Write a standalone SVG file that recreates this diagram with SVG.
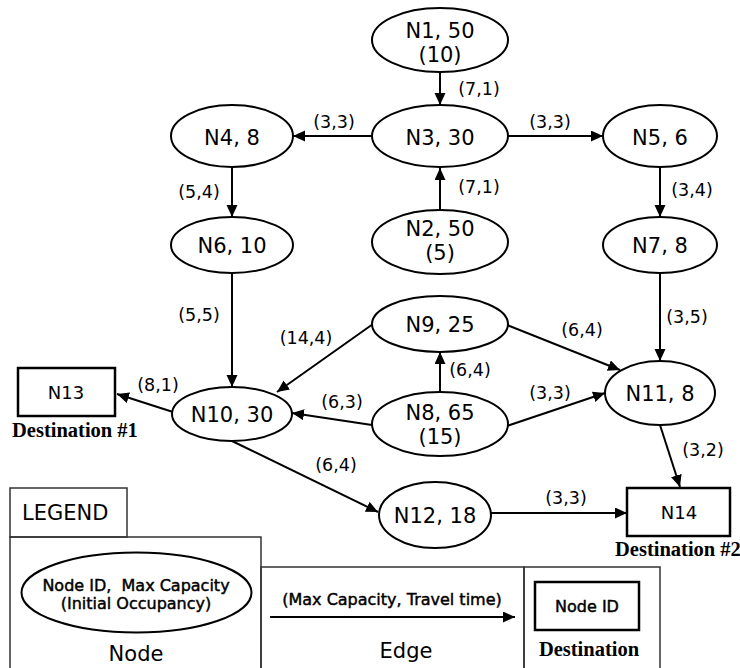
<svg xmlns="http://www.w3.org/2000/svg" width="740" height="668" viewBox="0 0 740 668">
<style>
.bg{fill:#fff}
.node ellipse{fill:#fff;stroke:#000;stroke-width:2}
.dest rect{fill:#fff;stroke:#000;stroke-width:2.5}
.t{font-family:"DejaVu Sans",Verdana,sans-serif;font-size:21px;text-anchor:middle;fill:#000}
.td{font-family:"DejaVu Sans",Verdana,sans-serif;font-size:18px;text-anchor:middle;fill:#000}
.e{font-family:"DejaVu Sans",Verdana,sans-serif;font-size:17.5px;text-anchor:middle;fill:#000}
.ser{font-family:"Liberation Serif","Times New Roman",serif;font-weight:bold;font-size:20.5px;fill:#000}
.conn line{stroke:#000;stroke-width:2;marker-end:url(#arr)}
.box{fill:none;stroke:#333;stroke-width:1.5}
.leg{font-family:"DejaVu Sans",Verdana,sans-serif;font-size:16px;text-anchor:middle;fill:#000;stroke:#000;stroke-width:0.45}
</style>
<defs>
<marker id="arr" markerUnits="userSpaceOnUse" markerWidth="13" markerHeight="12" refX="12" refY="5.5" orient="auto">
<path d="M0,0 L12,5.5 L0,11 z" fill="#000"/>
</marker>
</defs>
<rect class="bg" x="0" y="0" width="740" height="668"/>

<g id="connectors" class="conn">
<line x1="440" y1="72" x2="440" y2="105"/>
<line x1="372" y1="136" x2="293" y2="136"/>
<line x1="508" y1="136" x2="603" y2="136"/>
<line x1="440" y1="210" x2="440" y2="168"/>
<line x1="232" y1="167" x2="232" y2="217"/>
<line x1="660" y1="167" x2="660" y2="217"/>
<line x1="232" y1="273" x2="232" y2="387"/>
<line x1="660" y1="273" x2="660" y2="361"/>
<line x1="373" y1="324" x2="277" y2="392"/>
<line x1="372" y1="425" x2="292" y2="413"/>
<line x1="173" y1="412" x2="117" y2="394"/>
<line x1="440" y1="392" x2="440" y2="352"/>
<line x1="507" y1="325" x2="620" y2="370"/>
<line x1="507" y1="426" x2="605" y2="393"/>
<line x1="660" y1="425" x2="680" y2="487"/>
<line x1="232" y1="441" x2="378" y2="512"/>
<line x1="491" y1="513" x2="627" y2="513"/>
</g>

<g id="edge-labels">
<text class="e" x="479" y="95">(7,1)</text>
<text class="e" x="334" y="128">(3,3)</text>
<text class="e" x="550" y="128">(3,3)</text>
<text class="e" x="479" y="193">(7,1)</text>
<text class="e" x="199" y="198">(5,4)</text>
<text class="e" x="692" y="196">(3,4)</text>
<text class="e" x="199" y="321">(5,5)</text>
<text class="e" x="687" y="323">(3,5)</text>
<text class="e" x="306" y="344">(14,4)</text>
<text class="e" x="342" y="408">(6,3)</text>
<text class="e" x="158" y="391">(8,1)</text>
<text class="e" x="470" y="376">(6,4)</text>
<text class="e" x="582" y="336">(6,4)</text>
<text class="e" x="550" y="399">(3,3)</text>
<text class="e" x="703" y="456">(3,2)</text>
<text class="e" x="336" y="471">(6,4)</text>
<text class="e" x="566" y="504">(3,3)</text>
</g>

<g id="N1" class="node"><ellipse cx="440" cy="40" rx="68" ry="32"/><text class="t" x="440" y="38">N1, 50</text><text class="t" x="440" y="62">(10)</text></g>
<g id="N3" class="node"><ellipse cx="440" cy="136" rx="68" ry="31"/><text class="t" x="440" y="145">N3, 30</text></g>
<g id="N4" class="node"><ellipse cx="232" cy="136" rx="61" ry="31"/><text class="t" x="232" y="145">N4, 8</text></g>
<g id="N5" class="node"><ellipse cx="660" cy="136" rx="57" ry="31"/><text class="t" x="660" y="145">N5, 6</text></g>
<g id="N2" class="node"><ellipse cx="440" cy="242" rx="68" ry="32"/><text class="t" x="440" y="236">N2, 50</text><text class="t" x="440" y="260">(5)</text></g>
<g id="N6" class="node"><ellipse cx="232" cy="245" rx="61" ry="28"/><text class="t" x="232" y="253">N6, 10</text></g>
<g id="N7" class="node"><ellipse cx="660" cy="245" rx="57" ry="28"/><text class="t" x="660" y="253">N7, 8</text></g>
<g id="N9" class="node"><ellipse cx="440" cy="324" rx="68" ry="28"/><text class="t" x="440" y="332">N9, 25</text></g>
<g id="N8" class="node"><ellipse cx="440" cy="424" rx="68" ry="32"/><text class="t" x="440" y="420">N8, 65</text><text class="t" x="440" y="444">(15)</text></g>
<g id="N10" class="node"><ellipse cx="232" cy="414" rx="60" ry="27"/><text class="t" x="232" y="422">N10, 30</text></g>
<g id="N11" class="node"><ellipse cx="660" cy="393" rx="55" ry="32"/><text class="t" x="660" y="401">N11, 8</text></g>
<g id="N12" class="node"><ellipse cx="435" cy="515" rx="56" ry="33"/><text class="t" x="435" y="523">N12, 18</text></g>
<g id="N13" class="dest"><rect x="18" y="368" width="97" height="48"/><text class="td" x="66" y="399">N13</text><text class="ser" x="12" y="437">Destination #1</text></g>
<g id="N14" class="dest"><rect x="627" y="488" width="103" height="48"/><text class="td" x="679" y="519">N14</text><text class="ser" x="615" y="556">Destination #2</text></g>

<g id="legend">
<rect class="box" x="10" y="488" width="117" height="49"/>
<text x="22" y="520" style="font-family:'DejaVu Sans',Verdana,sans-serif;font-size:21px">LEGEND</text>
<rect class="box" x="10" y="537" width="251" height="140"/>
<rect class="box" x="261" y="567" width="263" height="110"/>
<rect class="box" x="524" y="567" width="136" height="110"/>
<ellipse cx="136.5" cy="592.5" rx="115" ry="40" fill="#fff" stroke="#000" stroke-width="2"/>
<text class="leg" x="136" y="591">Node ID,&#160; Max Capacity</text>
<text class="leg" x="136" y="609">(Initial Occupancy)</text>
<text x="136" y="661" style="font-family:'DejaVu Sans',Verdana,sans-serif;font-size:21px;text-anchor:middle">Node</text>
<line x1="270" y1="617" x2="515" y2="617" stroke="#000" stroke-width="2" marker-end="url(#arr)"/>
<text class="leg" x="392" y="605">(Max Capacity, Travel time)</text>
<text x="406" y="658" style="font-family:'DejaVu Sans',Verdana,sans-serif;font-size:21px;text-anchor:middle">Edge</text>
<rect x="535" y="582" width="104" height="48" fill="#fff" stroke="#000" stroke-width="2.5"/>
<text class="leg" x="587" y="612">Node ID</text>
<text class="ser" x="589" y="656" style="text-anchor:middle">Destination</text>
</g>
</svg>
